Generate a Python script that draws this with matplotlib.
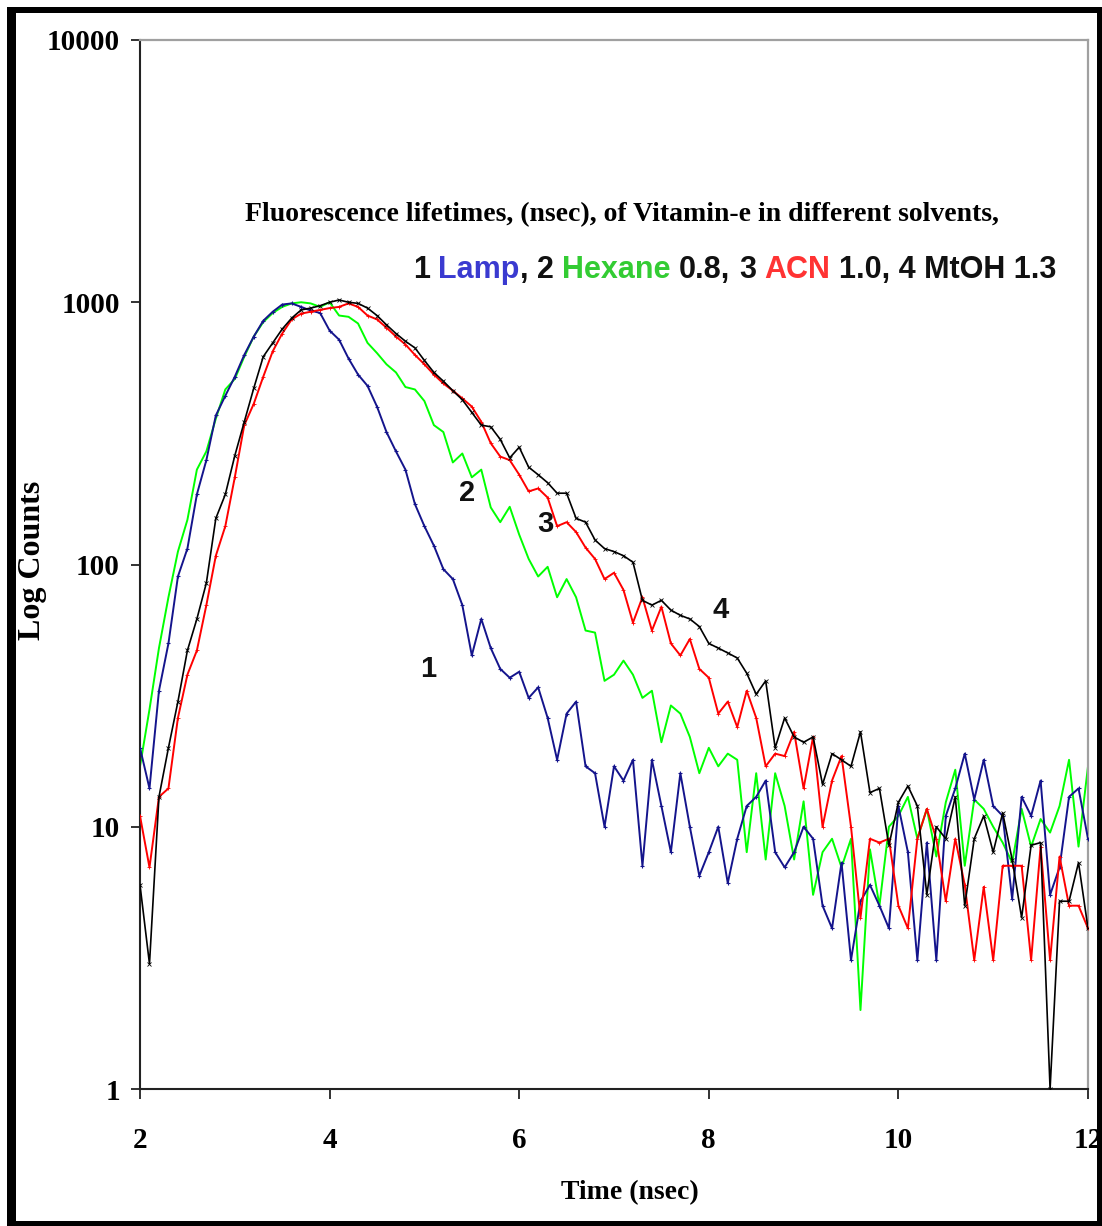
import numpy as np
import matplotlib
matplotlib.use("Agg")
import matplotlib.pyplot as plt
from matplotlib.patches import Rectangle
from matplotlib.ticker import FixedLocator, FixedFormatter, NullLocator

# ---------------- data ----------------
time_ns = np.round(np.arange(2.0, 12.0001, 0.1), 2)

lamp = [20, 14, 33, 50, 90, 115, 185, 250, 370, 440,
        520, 630, 740, 850, 920, 980, 990, 960, 930, 910,
        780, 720, 610, 530, 480, 400, 320, 270, 230, 170,
        140, 118, 96, 88, 70, 45, 62, 48, 40, 37,
        39, 31, 34, 26, 18, 27, 30, 17, 16, 10,
        17, 15, 18, 7.1, 18, 12, 8, 16, 10, 6.5,
        8, 10, 6.1, 9, 12, 13, 15, 8, 7, 8,
        10, 9, 5, 4.1, 7.3, 3.1, 5.2, 6, 5, 4.1,
        12, 8, 3.1, 8.7, 3.1, 11, 14, 19, 12.7, 18,
        12, 11, 5.3, 13, 11, 15, 5.5, 7, 13, 14,
        9]

hexane = [17, 28, 48, 75, 112, 148, 230, 270, 360, 465,
          510, 620, 740, 840, 910, 960, 990, 1000, 990, 960,
          1000, 890, 880, 830, 700, 640, 580, 540, 475, 465,
          420, 340, 320, 245, 265, 215, 230, 165, 145, 166,
          130, 105, 90, 98, 75, 88, 75, 56, 55, 36,
          38, 43, 38, 31, 33, 21, 29, 27, 22, 16,
          20, 17, 19, 18, 8, 16, 7.5, 16, 12, 7.5,
          12.5, 5.5, 8, 9, 7, 9, 2.0, 8.2, 5, 10,
          11, 13, 9, 11.7, 7.7, 12.4, 16.5, 7.1, 12.7, 11.7,
          10, 8.7, 7.3, 11.7, 8.4, 10.7, 9.5, 12, 18, 8.4,
          17]

acn = [11, 7, 13, 14, 26, 38, 47, 70, 108, 140,
       215, 340, 410, 520, 650, 760, 860, 905, 920, 935,
       950, 960, 990, 960, 890, 860, 800, 740, 690, 630,
       580, 530, 490, 460, 430, 400, 350, 290, 258, 250,
       220, 190, 195, 180, 140, 145, 133, 116, 105, 88,
       93, 80, 60, 75, 56, 69, 50, 45, 52, 40,
       37, 27, 30, 24, 33, 26, 17, 19, 18.6, 23,
       14, 22, 10, 15, 18.6, 10, 4.5, 9, 8.7, 9,
       5, 4.1, 9, 11.7, 9, 5.2, 9, 6, 3.1, 5.9,
       3.1, 7.1, 7.1, 7.1, 3.1, 8.4, 3.1, 7.7, 5, 5,
       4.1]

mtoh = [6, 3.0, 13, 20, 30, 47, 62, 85, 150, 185,
        260, 350, 470, 620, 700, 790, 870, 935, 950, 970,
        1000, 1020, 1000, 990, 950, 890, 820, 760, 710, 670,
        600, 540, 500, 460, 425, 380, 340, 335, 300, 255,
        280, 235, 220, 205, 187, 187, 150, 145, 124, 115,
        112, 108, 102, 73, 70, 73, 67, 64, 62, 58,
        50, 48, 46, 44, 38.5, 32, 36, 20, 26, 22,
        21, 22, 14.5, 19, 18, 17, 23, 13.5, 14, 8.5,
        12.4, 14.3, 12, 5.5, 10, 9, 13, 5, 9, 11,
        8, 11.3, 7.5, 4.5, 8.5, 8.7, 1.0, 5.2, 5.2, 7.3,
        4.1]

series_labels = ["1", "2", "3", "4"]
label_pos_x = [5.04, 5.45, 6.28, 8.12]
label_pos_y = [40, 188, 143, 67]

y_ticks = [1, 10, 100, 1000, 10000]
y_tick_labels = ["1", "10", "100", "1000", "10000"]
x_ticks = [2, 4, 6, 8, 10, 12]
x_tick_labels = ["2", "4", "6", "8", "10", "12"]

title_line = "Fluorescence lifetimes, (nsec), of Vitamin-e in different solvents,"

# ---------------- figure ----------------
W, H = 1102, 1226
fig = plt.figure(figsize=(W / 100, H / 100), dpi=100)
fig.patch.set_facecolor("white")

def fx(px):
    return px / W

def fy(py):
    return 1 - py / H

ax = fig.add_axes([fx(140), fy(1089), fx(1088) - fx(140), fy(40) - fy(1089)])

c_lamp = "#14148c"
c_hex = "#00ff00"
c_acn = "#ff0000"
c_mt = "#000000"

ax.plot(time_ns, hexane, color=c_hex, lw=1.4, zorder=2)
ax.plot(time_ns, lamp, color=c_lamp, lw=1.4, marker="+", ms=3.5, mew=0.8, zorder=3)
ax.plot(time_ns, acn, color=c_acn, lw=1.4, marker="+", ms=2.5, mew=0.6, zorder=4)
ax.plot(time_ns, mtoh, color=c_mt, lw=1.2, marker="x", ms=2.8, mew=0.6, zorder=5)

ax.set_yscale("log")
ax.set_xlim(2, 12)
ax.set_ylim(1, 10000)
ax.yaxis.set_major_locator(FixedLocator(y_ticks))
ax.yaxis.set_major_formatter(FixedFormatter(y_tick_labels))
ax.yaxis.set_minor_locator(NullLocator())
ax.xaxis.set_major_locator(FixedLocator(x_ticks))
ax.xaxis.set_major_formatter(FixedFormatter(x_tick_labels))

serif_bold = dict(family=["Liberation Serif", "DejaVu Serif"], weight="bold")
for lab in ax.get_xticklabels() + ax.get_yticklabels():
    lab.set_fontfamily(["Liberation Serif", "DejaVu Serif"])
    lab.set_fontweight("bold")
    lab.set_fontsize(21)
ax.tick_params(axis="y", direction="out", length=6.5, width=1.3, pad=8, color="#222222")
ax.tick_params(axis="x", direction="out", length=7.5, width=1.3, pad=20, color="#222222")

for s in ["left", "bottom"]:
    ax.spines[s].set_color("#222222")
    ax.spines[s].set_linewidth(1.5)
for s in ["top", "right"]:
    ax.spines[s].set_color("#a0a0a0")
    ax.spines[s].set_linewidth(1.6)

# axis labels
fig.text(fx(33), fy(560), "Log Counts", rotation=90, ha="center", va="center",
         fontsize=23, **serif_bold)
fig.text(fx(630), fy(1193), "Time (nsec)", ha="center", va="center",
         fontsize=20, **serif_bold)

# series number labels
sans_bold = dict(family=["Liberation Sans Narrow", "Liberation Sans", "DejaVu Sans"], weight="bold")
for s, xv, yv in zip(series_labels, label_pos_x, label_pos_y):
    ax.text(xv, yv, s, ha="center", va="center", fontsize=21, color="#111111", **sans_bold)

# title lines
fig.text(fx(245), fy(215), title_line, ha="left", va="center", fontsize=20, **serif_bold)

fig.canvas.draw()
renderer = fig.canvas.get_renderer()

def width_px(s, **kw):
    t = fig.text(0, 0, s, **kw)
    w = t.get_window_extent(renderer).width
    t.remove()
    return w

leg_kw = dict(fontsize=22, **sans_bold)
space_w = width_px("x x", **leg_kw) - width_px("xx", **leg_kw)
parts = [("1", "#111111", True), ("Lamp", "#3a3ad0", False), (",", "#111111", True),
         ("2", "#111111", True), ("Hexane", "#33cc33", True), ("0.8,", "#111111", True),
         ("3", "#111111", True), ("ACN", "#ff3333", True), ("1.0, 4 MtOH 1.3", "#111111", False)]
xpix = 413
for txt, col, sp in parts:
    t = fig.text(fx(xpix), fy(270), txt, color=col, ha="left", va="center", **leg_kw)
    xpix += t.get_window_extent(renderer).width + (space_w if sp else 0)

# outer black frame
frame_kw = dict(transform=fig.transFigure, facecolor="black", edgecolor="none", zorder=10)
fig.patches.append(Rectangle((fx(7), fy(1226)), fx(16) - fx(7), fy(7) - fy(1226), **frame_kw))
fig.patches.append(Rectangle((fx(7), fy(13)), fx(1102) - fx(7), fy(7) - fy(13), **frame_kw))
fig.patches.append(Rectangle((fx(7), fy(1226)), fx(1102) - fx(7), fy(1221) - fy(1226), **frame_kw))
fig.patches.append(Rectangle((fx(1097), fy(1226)), fx(1102) - fx(1097), fy(7) - fy(1226), **frame_kw))

fig.savefig("out.png", dpi=100)
